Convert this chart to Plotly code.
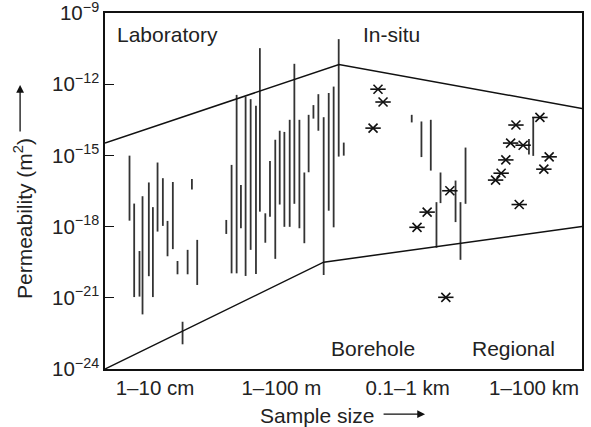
import plotly.graph_objects as go

# ---- data (x in category units: 0='1–10 cm', 1='1–100 m', 2='0.1–1 km', 3='1–100 km'; y = log10 permeability m^2)
categories = ["1–10 cm", "1–100 m", "0.1–1 km", "1–100 km"]
y_tick_exp = [-24, -21, -18, -15, -12, -9]

seg_x = [-0.202, -0.165, -0.123, -0.099, -0.049, -0.017, 0.020, 0.062, 0.099, 0.141,
         0.178, 0.258, 0.292, 0.334, 0.218, 0.564,
         0.606, 0.646, 0.680, 0.717, 0.757, 0.799, 0.830, 0.873, 0.910, 0.952,
         0.987, 1.024, 1.066, 1.103, 1.143, 1.182, 1.216, 1.254, 1.293, 1.335,
         1.375, 1.414, 1.454, 1.494,
         2.032, 2.109, 2.183, 2.260, 2.228, 2.379, 2.418, 2.458,
         2.994, 2.960]
seg_lo = [-17.75, -20.97, -20.95, -21.70, -20.09, -20.97, -18.21, -17.97, -19.25, -18.95,
          -20.01, -20.01, -16.44, -20.46, -22.96, -18.31,
          -19.97, -19.97, -18.07, -20.08, -18.98, -20.00, -17.37, -18.68, -17.58, -19.36,
          -17.07, -18.01, -18.01, -17.04, -18.07, -18.70, -15.71, -13.45, -13.96, -20.04,
          -17.33, -18.03, -15.05, -15.01,
          -13.61, -15.07, -15.64, -17.01, -18.89, -17.81, -19.40, -17.04,
          -15.02, -14.96]
seg_hi = [-15.01, -17.03, -19.03, -16.72, -16.14, -17.18, -15.30, -15.96, -17.76, -16.12,
          -19.45, -18.98, -15.99, -18.56, -22.01, -17.72,
          -15.40, -12.45, -16.25, -12.52, -12.63, -12.91, -10.48, -17.44, -15.24, -14.34,
          -13.96, -14.01, -13.50, -11.14, -13.50, -15.72, -13.29, -12.88, -12.42, -13.39,
          -12.37, -12.10, -10.10, -14.46,
          -13.29, -13.57, -13.50, -15.72, -16.97, -16.06, -16.97, -14.67,
          -13.39, -14.31]

star_x = [1.765, 1.805, 1.726, 2.334, 2.154, 2.074, 2.302,
          2.857, 2.815, 2.914, 2.777, 2.740, 2.696, 2.883, 3.047, 3.120, 3.078]
star_y = [-12.21, -12.75, -13.85, -16.49, -17.39, -18.03, -20.98,
          -13.72, -14.48, -14.57, -15.19, -15.75, -16.04, -17.07, -13.40, -15.06, -15.58]

upper_x = [-0.396, 1.456, 3.380]
upper_y = [-14.48, -11.17, -13.02]
lower_x = [-0.396, 1.335, 3.380]
lower_y = [-24.00, -19.50, -18.00]

FONT = "Liberation Sans, Arial, sans-serif"
INK = "#111111"

fig = go.Figure()

# vertical range segments
sx, sy = [], []
for x, lo, hi in zip(seg_x, seg_lo, seg_hi):
    sx += [x, x, None]
    sy += [10 ** lo, 10 ** hi, None]
fig.add_trace(go.Scatter(x=sx, y=sy, mode="lines", line=dict(color="#333333", width=1.8),
                         hoverinfo="skip", showlegend=False))

# envelope
fig.add_trace(go.Scatter(x=upper_x, y=[10 ** v for v in upper_y], mode="lines",
                         line=dict(color=INK, width=1.5), showlegend=False))
fig.add_trace(go.Scatter(x=lower_x, y=[10 ** v for v in lower_y], mode="lines",
                         line=dict(color=INK, width=1.5), showlegend=False))

# asterisks (x + horizontal bar)
sy_vals = [10 ** v for v in star_y]
fig.add_trace(go.Scatter(x=star_x, y=sy_vals, mode="markers",
                         marker=dict(symbol="x-thin-open", size=9, color=INK,
                                     line=dict(color=INK, width=1.6)),
                         showlegend=False))
fig.add_trace(go.Scatter(x=star_x, y=sy_vals, mode="markers",
                         marker=dict(symbol="line-ew-open", size=11, color=INK,
                                     line=dict(color=INK, width=1.6)),
                         showlegend=False))

fig.update_xaxes(range=[-0.396, 3.380], tickvals=[0, 1, 2, 3], ticktext=categories,
                 showgrid=False, zeroline=False, showline=True, mirror=True,
                 linecolor=INK, linewidth=1.5, ticks="", automargin=False,
                 ticklabeloverflow="allow",
                 tickfont=dict(family=FONT, size=20.5, color="#222222"))
fig.update_yaxes(type="log", range=[-24.001, -8.999],
                 tickvals=[10 ** e for e in y_tick_exp],
                 ticktext=["10<sup>−%d</sup>" % (-e) for e in y_tick_exp],
                 showgrid=False, zeroline=False, showline=True, mirror=True,
                 linecolor=INK, linewidth=1.5, ticks="inside", ticklen=9,
                 tickcolor=INK, tickwidth=1.3, automargin=False,
                 ticklabeloverflow="allow",
                 tickfont=dict(family=FONT, size=20.5, color="#222222"))

ann_font = dict(family=FONT, size=21, color="#222222")
annotations = [
    dict(x=-0.315, y=-9.915, xref="x", yref="y", text="Laboratory", showarrow=False,
         xanchor="left", yanchor="middle", font=ann_font),
    dict(x=1.634, y=-9.915, xref="x", yref="y", text="In-situ", showarrow=False,
         xanchor="left", yanchor="middle", font=ann_font),
    dict(x=1.723, y=-23.12, xref="x", yref="y", text="Borehole", showarrow=False,
         xanchor="center", yanchor="middle", font=ann_font),
    dict(x=2.841, y=-23.12, xref="x", yref="y", text="Regional", showarrow=False,
         xanchor="center", yanchor="middle", font=ann_font),
    # axis titles
    dict(x=-0.172, y=0.424, xref="paper", yref="paper", text="Permeability (m<sup>2</sup>)",
         textangle=-90, showarrow=False, xanchor="center", yanchor="middle", font=ann_font),
    dict(x=0.444, y=-0.131, xref="paper", yref="paper", text="Sample size", showarrow=False,
         xanchor="center", yanchor="middle", font=ann_font),
    # arrows
    dict(x=-0.178, y=0.798, xref="paper", yref="paper", text="", showarrow=True,
         ax=0, ay=48, arrowhead=2, arrowsize=1.2, arrowwidth=1.3, arrowcolor=INK),
    dict(x=0.671, y=-0.127, xref="paper", yref="paper", text="", showarrow=True,
         ax=-43, ay=0, arrowhead=2, arrowsize=1.2, arrowwidth=1.3, arrowcolor=INK),
]

fig.update_layout(width=591, height=427, margin=dict(l=105, r=9, t=13, b=58),
                  paper_bgcolor="white", plot_bgcolor="white",
                  annotations=annotations, showlegend=False)

# remove the page's default body margin so the figure sits at the window origin
fig.write_html("out.html", config={"displayModeBar": False},
               post_script="document.body.style.margin='0px';")
